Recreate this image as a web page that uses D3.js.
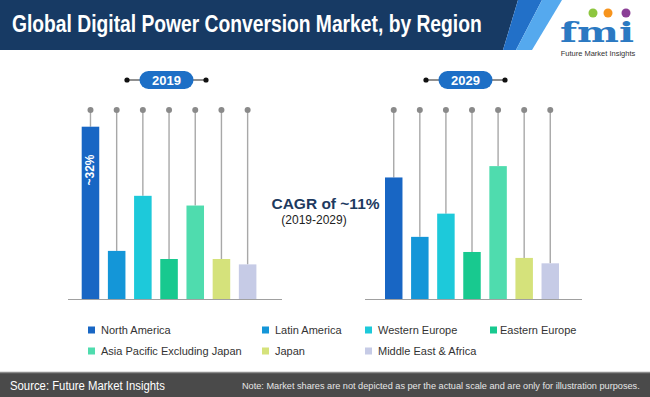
<!DOCTYPE html>
<html>
<head>
<meta charset="utf-8">
<script src="https://cdn.jsdelivr.net/npm/d3@7"></script>
<style>
  html, body { margin: 0; padding: 0; background: #fff; overflow: hidden; }
</style>
</head>
<body>
<script>
// Regions and their colours (legend order)
const regions = [
  "North America", "Latin America", "Western Europe", "Eastern Europe",
  "Asia Pacific Excluding Japan", "Japan", "Middle East & Africa"
];
const regionColors = ["#1866c4", "#1496d8", "#1dc9da", "#18c98f", "#4fdcae", "#d5e27b", "#c6cbe6"];

// Approximate market shares (%)
const share2019 = [32, 9.0, 19.2, 7.5, 17.4, 7.5, 6.5];
const share2029 = [22.6, 11.6, 15.9, 8.8, 24.7, 7.7, 6.7];
const years = ["2019", "2029"];

const width = 650;
const height = 397;

const svg = d3.select("body")
  .append("svg")
  .attr("width", width)
  .attr("height", height)
  .style("font-family", "Arial, 'Liberation Sans', sans-serif");

// squeeze a text horizontally so it spans the wanted width (condensed look)
const fitWidth = (sel, x, y, w) => {
  const len = sel.node().getComputedTextLength();
  sel.attr("transform", `translate(${x},${y}) scale(${w / len},1)`);
};

// Header band
svg.append("polygon")
  .attr("points", "0,0 518,0 503,50 0,50")
  .attr("fill", "#173a64");
svg.append("polygon")
  .attr("points", "518,0 542,0 516,50 503,50")
  .attr("fill", "#2270c8");
svg.append("polygon")
  .attr("points", "542,0 562,0 532,50 516,50")
  .attr("fill", "#55a9ee");

const title = svg.append("text")
  .attr("fill", "#fff")
  .attr("font-size", 24)
  .attr("font-weight", "bold")
  .text("Global Digital Power Conversion Market, by Region");
fitWidth(title, 12, 32, 470);

// Logo
const logo = svg.append("g");
[["#8dc63f", 593], ["#f7941d", 608], ["#8b3f96", 626]].forEach(([c, x]) => {
  logo.append("circle").attr("cx", x).attr("cy", 13).attr("r", 4.5).attr("fill", c);
});
const fmi = logo.append("text")
  .attr("fill", "#2b79c2")
  .attr("font-family", "'DejaVu Serif', serif")
  .attr("font-weight", "bold")
  .attr("font-size", 27)
  .text("fmi");
fitWidth(fmi, 560, 42, 74);
logo.append("text")
  .attr("x", 598)
  .attr("y", 56)
  .attr("text-anchor", "middle")
  .attr("fill", "#333")
  .attr("font-size", 7.5)
  .text("Future Market Insights");

// Shared value scale
const baseY = 299.5;
const dotY = 110;
const y = d3.scaleLinear().domain([0, 32]).range([baseY, 126.7]);

const panels = [
  { year: years[0], values: share2019, range: [81.7, 256.4], axis: [68, 282], pillX: 166.5 },
  { year: years[1], values: share2029, range: [385, 559], axis: [365, 582], pillX: 465.5 }
];

panels.forEach((p) => {
  const x = d3.scaleBand().domain(regions).range(p.range).paddingInner(0.33).paddingOuter(0);
  const g = svg.append("g");

  // year pill with connector
  g.append("line")
    .attr("x1", p.pillX - 39.5).attr("x2", p.pillX + 39.5)
    .attr("y1", 80).attr("y2", 80)
    .attr("stroke", "#222").attr("stroke-width", 1.2);
  [p.pillX - 39.5, p.pillX + 39.5].forEach((cx) => {
    g.append("circle").attr("cx", cx).attr("cy", 80).attr("r", 2.6).attr("fill", "#111");
  });
  g.append("rect")
    .attr("x", p.pillX - 27).attr("y", 71)
    .attr("width", 54).attr("height", 18)
    .attr("rx", 9)
    .attr("fill", "#1d6fc6");
  g.append("text")
    .attr("x", p.pillX).attr("y", 85)
    .attr("text-anchor", "middle")
    .attr("fill", "#fff")
    .attr("font-size", 13)
    .attr("font-weight", "bold")
    .text(p.year);

  const data = regions.map((r, i) => ({ region: r, value: p.values[i], color: regionColors[i] }));

  // stems from dot to bar top
  g.selectAll(".stem")
    .data(data)
    .join("line")
    .attr("x1", (d) => x(d.region) + x.bandwidth() / 2)
    .attr("x2", (d) => x(d.region) + x.bandwidth() / 2)
    .attr("y1", dotY)
    .attr("y2", (d) => y(d.value))
    .attr("stroke", "#a8a8a8")
    .attr("stroke-width", 1.4);

  g.selectAll(".dot")
    .data(data)
    .join("circle")
    .attr("cx", (d) => x(d.region) + x.bandwidth() / 2)
    .attr("cy", dotY)
    .attr("r", 3)
    .attr("fill", "#8a8a8a");

  g.selectAll(".bar")
    .data(data)
    .join("rect")
    .attr("x", (d) => x(d.region))
    .attr("y", (d) => y(d.value))
    .attr("width", x.bandwidth())
    .attr("height", (d) => baseY - y(d.value))
    .attr("fill", (d) => d.color);

  // baseline
  g.append("line")
    .attr("x1", p.axis[0]).attr("x2", p.axis[1])
    .attr("y1", baseY).attr("y2", baseY)
    .attr("stroke", "#a0a0a0")
    .attr("stroke-width", 1.2);

  if (p.year === "2019") {
    const cx = x(regions[0]) + x.bandwidth() / 2;
    g.append("text")
      .attr("transform", `translate(${cx + 4},170) rotate(-90)`)
      .attr("text-anchor", "middle")
      .attr("fill", "#fff")
      .attr("font-size", 12)
      .attr("font-weight", "bold")
      .text("~" + p.values[0] + "%");
  }
});

// CAGR callout
svg.append("text")
  .attr("x", 325.5).attr("y", 209)
  .attr("text-anchor", "middle")
  .attr("fill", "#1d3a5f")
  .attr("font-size", 15.5)
  .attr("font-weight", "bold")
  .text("CAGR of ~11%");
svg.append("text")
  .attr("x", 314).attr("y", 224)
  .attr("text-anchor", "middle")
  .attr("fill", "#222")
  .attr("font-size", 12)
  .text("(2019-2029)");

// Legend
const legendCols = [88, 262, 365, 490];
const legendRowsY = [330, 351];
const legend = svg.append("g");
regions.forEach((r, i) => {
  const row = i < 4 ? 0 : 1;
  const col = i < 4 ? i : i - 4;
  const lx = legendCols[col];
  const ly = legendRowsY[row];
  legend.append("rect")
    .attr("x", lx).attr("y", ly - 3.5)
    .attr("width", 7).attr("height", 7)
    .attr("fill", regionColors[i]);
  legend.append("text")
    .attr("x", lx + (col === 3 ? 10 : 13)).attr("y", ly + 4)
    .attr("fill", "#333")
    .attr("font-size", 11)
    .text(r);
});

// Footer
svg.append("rect")
  .attr("x", 0).attr("y", 372)
  .attr("width", width).attr("height", height - 372)
  .attr("fill", "#4a4a4a");
svg.append("line")
  .attr("x1", 0).attr("x2", width)
  .attr("y1", 372.5).attr("y2", 372.5)
  .attr("stroke", "#8c8c8c").attr("stroke-width", 1.5);
const source = svg.append("text")
  .attr("fill", "#fff")
  .attr("font-size", 12.5)
  .text("Source: Future Market Insights");
fitWidth(source, 10, 389.5, 155);
const note = svg.append("text")
  .attr("fill", "#e6e6e6")
  .attr("font-size", 9)
  .text("Note: Market shares are not depicted as per the actual scale and are only for illustration purposes.");
fitWidth(note, 242, 388.5, 398);
</script>
</body>
</html>
